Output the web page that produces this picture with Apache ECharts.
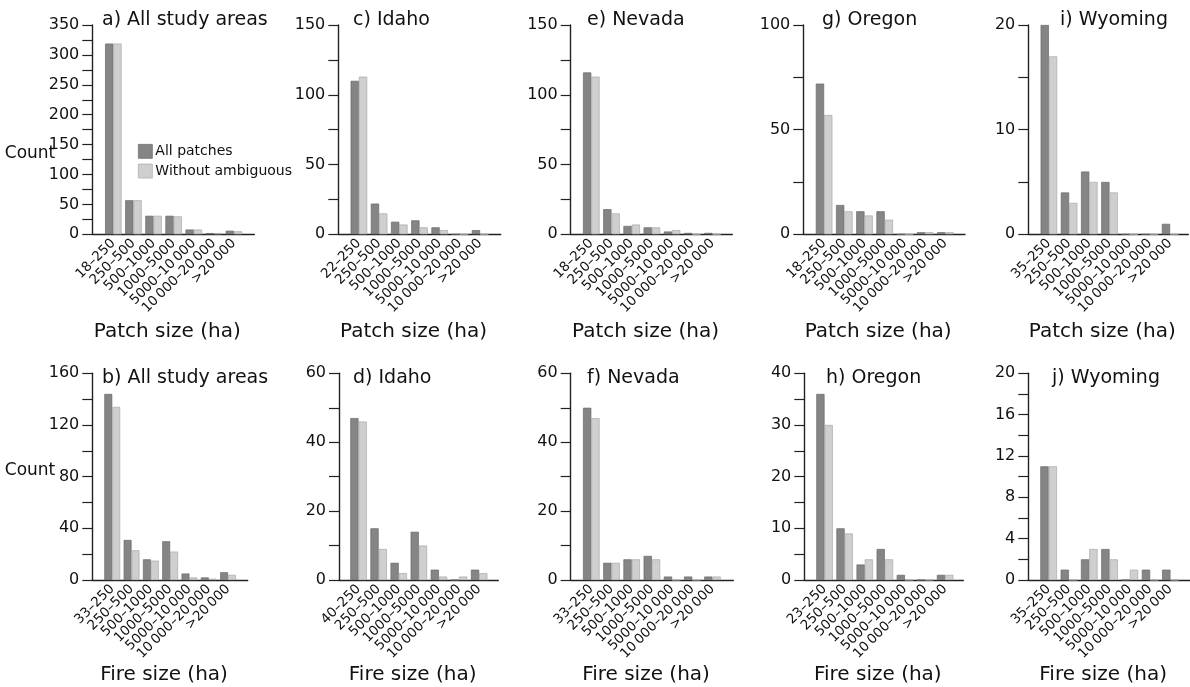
<!DOCTYPE html>
<html>
<head>
<meta charset="utf-8">
<script src="https://cdn.jsdelivr.net/npm/echarts@6/dist/echarts.min.js"></script>
<style>
html,body{margin:0;padding:0;background:#fff;}
#chart{width:1190px;height:687px;}
</style>
</head>
<body>
<div id="chart"></div>
<script>
// ---- data ----
const seriesNames = ['All patches', 'Without ambiguous'];
const tailCats = ['250–500', '500–1000', '1000–5000', '5000–10\u2009000', '10\u2009000–20\u2009000', '>20\u2009000'];
const catsA = ['18–250'].concat(tailCats);
const catsC = ['22–250'].concat(tailCats);
const catsE = ['18–250'].concat(tailCats);
const catsG = ['18–250'].concat(tailCats);
const catsI = ['35–250'].concat(tailCats);
const catsB = ['33–250'].concat(tailCats);
const catsD = ['40–250'].concat(tailCats);
const catsF = ['33–250'].concat(tailCats);
const catsH = ['23–250'].concat(tailCats);
const catsJ = ['35–250'].concat(tailCats);

const allA = [319, 57, 31, 31, 8, 2, 6];
const woA  = [319, 57, 31, 30, 8, 2, 5];
const allC = [110, 22, 9, 10, 5, 0, 3];
const woC  = [113, 15, 7, 5, 3, 0, 0];
const allE = [116, 18, 6, 5, 2, 1, 1];
const woE  = [113, 15, 7, 5, 3, 0, 0];
const allG = [72, 14, 11, 11, 0, 1, 1];
const woG  = [57, 11, 9, 7, 0, 1, 1];
const allI = [20, 4, 6, 5, 0, 0, 1];
const woI  = [17, 3, 5, 4, 0, 0, 0];
const allB = [144, 31, 16, 30, 5, 2, 6];
const woB  = [134, 23, 15, 22, 2, 1, 4];
const allD = [47, 15, 5, 14, 3, 0, 3];
const woD  = [46, 9, 2, 10, 1, 1, 2];
const allF = [50, 5, 6, 7, 1, 1, 1];
const woF  = [47, 5, 6, 6, 0, 0, 1];
const allH = [36, 10, 3, 6, 1, 0, 1];
const woH  = [30, 9, 4, 4, 0, 0, 1];
const allJ = [11, 1, 2, 3, 0, 1, 1];
const woJ  = [11, 0, 3, 2, 1, 0, 0];

const panelTitles = ['a) All study areas', 'c) Idaho', 'e) Nevada', 'g) Oregon', 'i) Wyoming',
                     'b) All study areas', 'd) Idaho', 'f) Nevada', 'h) Oregon', 'j) Wyoming'];
const yMax = [350, 150, 150, 100, 20, 160, 60, 60, 40, 20];
const yStep = [50, 50, 50, 50, 10, 40, 20, 20, 10, 4];
const axisNames = ['Patch size (ha)', 'Fire size (ha)'];
const yName = 'Count';

// ---- layout ----
const FONT = 'DejaVu Sans';
const rows = [{top: 25, h: 209.3, titleY: 20, nameY: 332, countY: 154},
              {top: 373.3, h: 206.7, titleY: 378, nameY: 675, countY: 471}];
const layout = [
  {x0: 92.3, w: 162, pad: 11, step: 20.1, tx: 102},
  {x0: 338.3, w: 162.4, pad: 10.5, step: 20.2, tx: 353},
  {x0: 570.7, w: 161.6, pad: 10.5, step: 20.2, tx: 587},
  {x0: 803.3, w: 161.7, pad: 10.7, step: 20.2, tx: 822},
  {x0: 1028.3, w: 160, pad: 10.5, step: 20.2, tx: 1060},
  {x0: 92.3, w: 155.4, pad: 10.3, step: 19.3, tx: 102},
  {x0: 339, w: 159.3, pad: 9.5, step: 20.1, tx: 353},
  {x0: 570.7, w: 162.6, pad: 10.5, step: 20.2, tx: 587},
  {x0: 804.3, w: 159, pad: 10.2, step: 20.1, tx: 826},
  {x0: 1028.3, w: 161.7, pad: 10.2, step: 20.3, tx: 1052}
];
const cats = [catsA, catsC, catsE, catsG, catsI, catsB, catsD, catsF, catsH, catsJ];
const allVals = [allA, allC, allE, allG, allI, allB, allD, allF, allH, allJ];
const woVals = [woA, woC, woE, woG, woI, woB, woD, woF, woH, woJ];

const DARK = '#858585', DARK_B = '#6a6a6a';
const LIGHT = '#cfcfcf', LIGHT_B = '#a9a9a9';
const AX = '#222';
const TICK = 10;

const grid = [], xAxis = [], yAxis = [], series = [], graphic = [];
for (let i = 0; i < 10; i++) {
  const r = rows[i < 5 ? 0 : 1];
  const L = layout[i];
  grid.push({left: L.x0, top: r.top, width: L.w, height: r.h});
  grid.push({left: L.x0 + L.pad, top: r.top, width: L.step * 7, height: r.h});
  const gw = 2 * i, gn = 2 * i + 1;
  xAxis.push({type: 'value', gridIndex: gw, min: 0, max: 1,
    axisLine: {show: true, lineStyle: {color: AX, width: 1.4}},
    axisTick: {show: false}, axisLabel: {show: false}, splitLine: {show: false}});
  xAxis.push({type: 'category', gridIndex: gn, data: cats[i],
    axisLine: {show: false}, axisTick: {show: false}, splitLine: {show: false},
    axisLabel: {interval: 0, rotate: 45, margin: 7, fontSize: 13.5, fontFamily: FONT, color: '#111'}});
  yAxis.push({type: 'value', gridIndex: gw, min: 0, max: yMax[i], interval: yStep[i],
    axisLine: {show: true, lineStyle: {color: AX, width: 1.4}},
    axisTick: {show: true, length: TICK, lineStyle: {color: AX, width: 1.2}},
    minorTick: {show: true, splitNumber: 2, length: TICK, lineStyle: {color: AX, width: 1.2}},
    axisLabel: {fontSize: 16, fontFamily: FONT, color: '#111', margin: TICK + 3},
    splitLine: {show: false}});
  yAxis.push({type: 'value', gridIndex: gn, min: 0, max: yMax[i], interval: yStep[i], show: false});
  series.push({type: 'bar', name: seriesNames[0], xAxisIndex: gn, yAxisIndex: gn, data: allVals[i],
    barWidth: L.step * 0.41, barGap: '0%', silent: true,
    itemStyle: {color: DARK, borderColor: DARK_B, borderWidth: 0.7}});
  series.push({type: 'bar', name: seriesNames[1], xAxisIndex: gn, yAxisIndex: gn, data: woVals[i],
    barWidth: L.step * 0.41, barGap: '0%', silent: true,
    itemStyle: {color: LIGHT, borderColor: LIGHT_B, borderWidth: 0.7}});
  graphic.push({type: 'text', x: L.tx, y: r.titleY,
    style: {text: panelTitles[i], font: '19px "' + FONT + '"', fill: '#111', textVerticalAlign: 'middle'}});
  graphic.push({type: 'text', x: L.x0 + L.w / 2 - 6, y: r.nameY,
    style: {text: axisNames[i < 5 ? 0 : 1], font: '20px "' + FONT + '"', fill: '#111',
            textAlign: 'center', textVerticalAlign: 'middle'}});
}
rows.forEach(function (r) {
  graphic.push({type: 'text', x: 30, y: r.countY,
    style: {text: yName, font: '17px "' + FONT + '"', fill: '#111', textAlign: 'center', textVerticalAlign: 'middle'}});
});

const chart = echarts.init(document.getElementById('chart'), null, {renderer: 'canvas'});
chart.setOption({
  animation: false,
  backgroundColor: '#fff',
  grid: grid, xAxis: xAxis, yAxis: yAxis, series: series, graphic: graphic,
  legend: {
    data: [
      {name: seriesNames[0], itemStyle: {color: DARK, borderColor: DARK_B, borderWidth: 0.7}},
      {name: seriesNames[1], itemStyle: {color: LIGHT, borderColor: LIGHT_B, borderWidth: 0.7}}
    ],
    orient: 'vertical', left: 133, top: 139, icon: 'rect', itemWidth: 14, itemHeight: 14, itemGap: 5,
    selectedMode: false,
    textStyle: {fontSize: 14, fontFamily: FONT, color: '#111', padding: [0, 0, 0, -2]}
  }
});
</script>
</body>
</html>
